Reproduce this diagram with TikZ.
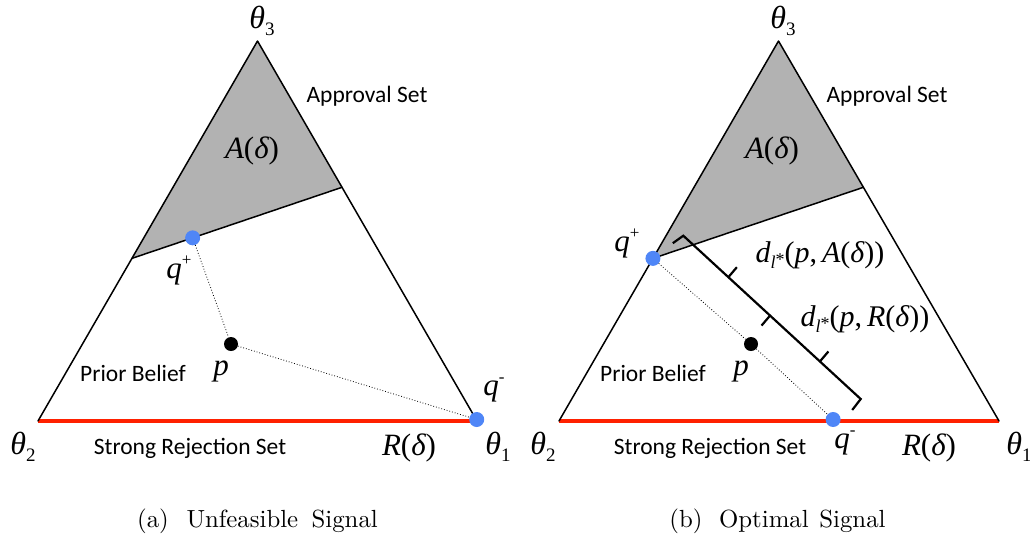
\documentclass[tikz,border=0pt]{standalone}
\usepackage{fontspec}
\newfontfamily\calib{Carlito}
\newfontfamily\tms{Liberation Serif}
\usetikzlibrary{calc}
\definecolor{qblue}{RGB}{79,134,247}
\definecolor{rred}{RGB}{255,32,0}
\definecolor{agray}{RGB}{178,178,178}
\newcommand\mi[1]{{\tms\itshape #1}}
\newcommand\thl[1]{\mi{θ}\raisebox{-7pt}{\fontsize{19}{19}\selectfont\tms #1}}
\newcommand\qpm[1]{\mi{q}\raisebox{13pt}{\fontsize{17}{17}\selectfont\tms #1}}
\newcommand\dl{\mi{d}\raisebox{-6pt}{\fontsize{18}{18}\selectfont\mi{l}\raisebox{3pt}{\tms *}}}
\newcommand\capt[1]{\scalebox{2.48}{\fontsize{10}{12}\selectfont #1}}
\tikzset{
 edge/.style={line width=1.5pt, line cap=round, line join=round},
 rej/.style={draw=rred, line width=4pt},
 dotline/.style={dotted, line width=0.8pt},
 bdot/.style={circle, fill=qblue, inner sep=0pt, minimum size=15pt},
 kdot/.style={circle, fill=black, inner sep=0pt, minimum size=14pt},
 sans/.style={font=\calib\fontsize{23.5}{28}\selectfont, inner sep=0pt},
 mlab/.style={font=\tms\fontsize{31}{36}\selectfont, inner sep=0pt},
 vlab/.style={font=\tms\fontsize{32}{36}\selectfont, inner sep=0pt},
 dlab/.style={font=\tms\fontsize{30}{34}\selectfont, inner sep=0pt},
 captext/.style={inner sep=0pt},
 bracket/.style={line width=2.2pt, line join=miter},
}
\begin{document}
\begin{tikzpicture}[x=1pt,y=-1pt]
\useasboundingbox (0,0) rectangle (1030,542);
% ---------- left panel ----------
\coordinate (aT) at (257.5,41);
\coordinate (aL) at (38,421);
\coordinate (aR) at (477,421);
\coordinate (aAl) at ($(aL)!0.428!(aT)$);
\coordinate (aAr) at ($(aR)!0.615!(aT)$);
\fill[agray] (aT) -- (aAr) -- (aAl) -- cycle;
\draw[rej] (aL) -- (aR);
\draw[edge] (aL) -- (aT) -- (aR);
\draw[edge] (aAl) -- (aAr);
\node[bdot] (aqp) at ($(aAl)!0.289!(aAr)$) {};
\node[kdot] (ap) at (231,344) {};
\node[bdot] (aqm) at (476.7,419.5) {};
\draw[dotline] (aqp) -- (ap) -- (aqm);
\node[vlab] (at3) at (262,21) {\thl{3}};
\node[vlab] (at2) at (23,447) {\thl{2}};
\node[vlab] (at1) at (498,447) {\thl{1}};
\node[sans] (aapp) at (367,96) {Approval Set};
\node[mlab] (aA) at (252,151) {\mi{A}(\mi{δ})};
\node[mlab] (aqpl) at (179,270) {\qpm{+}};
\node[sans] (aprior) at (133,373) {Prior Belief};
\node[mlab] (apl) at (221,371) {\mi{p}};
\node[mlab] (aqml) at (494,390) {\qpm{-}};
\node[sans] (arej) at (190,448) {Strong Rejection Set};
\node[mlab] (aRd) at (409,448) {\mi{R}(\mi{δ})};
\node[captext] (acap) at (257.5,521) {\capt{(a)\hspace{7.1pt}Unfeasible\hspace{5.4pt}Signal}};
% ---------- right panel ----------
\coordinate (bT) at (778.5,41);
\coordinate (bL) at (559,421);
\coordinate (bR) at (999,421);
\coordinate (bAl) at ($(bL)!0.428!(bT)$);
\coordinate (bAr) at ($(bR)!0.615!(bT)$);
\fill[agray] (bT) -- (bAr) -- (bAl) -- cycle;
\draw[rej] (bL) -- (bR);
\draw[edge] (bL) -- (bT) -- (bR);
\draw[edge] (bAl) -- (bAr);
\node[bdot] (bqp) at (bAl) {};
\node[kdot] (bp) at (751,344) {};
\node[bdot] (bqm) at ($(bL)!0.623!(bR)+(0,-1.5)$) {};
\draw[dotline] (bqp) -- (bp) -- (bqm);
% bracket
\coordinate (bk1) at (683.3,235.7);
\coordinate (bk2) at (860.7,399);
\draw[bracket] ($(bk1)+(-10.5,7.5)$) -- (bk1) -- (bk2) -- ($(bk2)+(-8.5,11)$);
\draw[bracket] ($(bk1)!0.254!(bk2)$) -- ++(8.5,-10);
\draw[bracket] ($(bk1)!0.489!(bk2)$) -- ++(-8.5,10);
\draw[bracket] ($(bk1)!0.77!(bk2)$) -- ++(8.5,-10);
\node[vlab] (bt3) at (783,21) {\thl{3}};
\node[vlab] (bt2) at (543,447) {\thl{2}};
\node[vlab] (bt1) at (1019,447) {\thl{1}};
\node[sans] (bapp) at (887,96) {Approval Set};
\node[mlab] (bA) at (772,151) {\mi{A}(\mi{δ})};
\node[mlab] (bqpl) at (627,243) {\qpm{+}};
\node[sans] (bprior) at (653,373) {Prior Belief};
\node[mlab] (bpl) at (741,371) {\mi{p}};
\node[mlab] (bqml) at (845,443) {\qpm{-}};
\node[sans] (brej) at (710,448) {Strong Rejection Set};
\node[mlab] (bRd) at (929,448) {\mi{R}(\mi{δ})};
\node[dlab] (bdA) at (820,255) {\dl(\mi{p},\,\mi{A}(\mi{δ}))};
\node[dlab] (bdR) at (865,319) {\dl(\mi{p},\,\mi{R}(\mi{δ}))};
\node[captext] (bcap) at (777.5,521) {\capt{(b)\hspace{6.7pt}Optimal\hspace{4.3pt}Signal}};
\end{tikzpicture}
\end{document}
